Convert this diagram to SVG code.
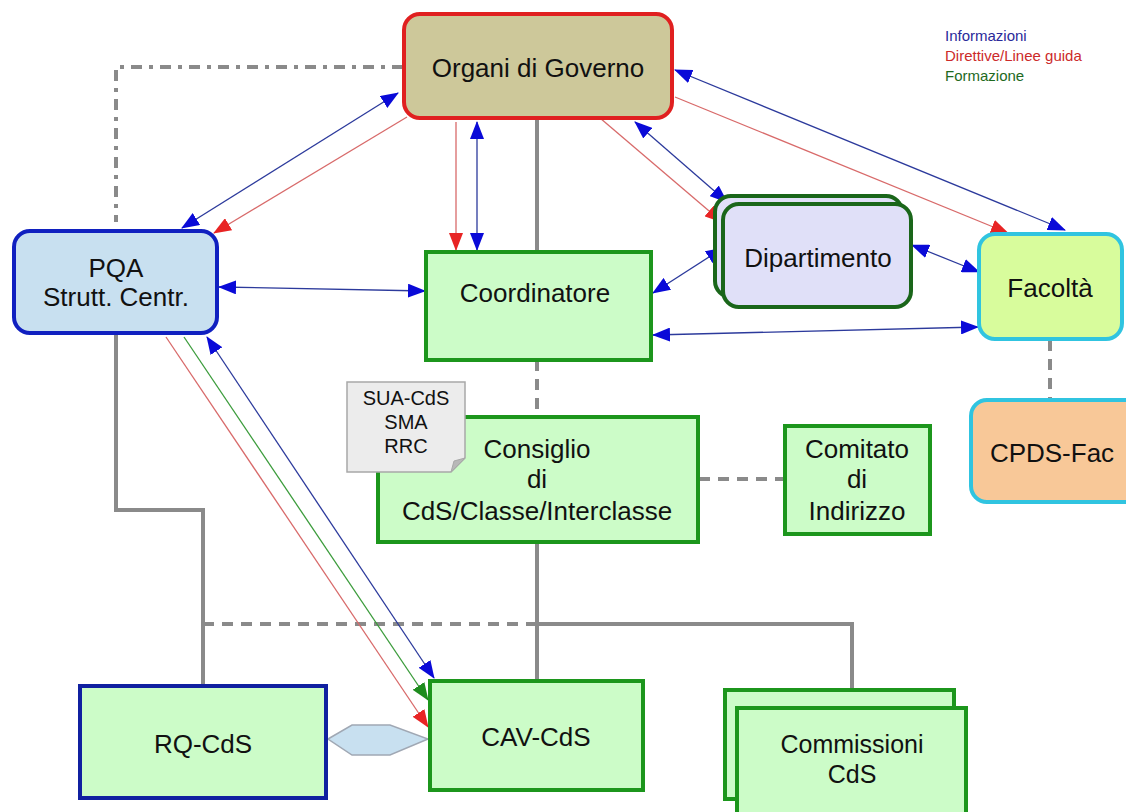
<svg xmlns="http://www.w3.org/2000/svg" width="1126" height="812" viewBox="0 0 1126 812">
<style>
text{font-family:"Liberation Sans",Arial,sans-serif;fill:#111;text-anchor:middle}
.t{font-size:26px}
.c{font-size:25px}
.n{font-size:20px}
.lg{font-size:15px;text-anchor:start}
.g{fill:#ccfcc8;stroke:#1c961c;stroke-width:4}
.sol{stroke:#8a8a8a;stroke-width:4;fill:none}
.dash{stroke:#8a8a8a;stroke-width:4;fill:none;stroke-dasharray:11 8}
.dd{stroke:#8a8a8a;stroke-width:4;fill:none;stroke-dasharray:11 7 4 7}
.bl{stroke:#2c3a9c;stroke-width:1.3;fill:none}
.rd{stroke:#d86a6a;stroke-width:1.3;fill:none}
.gr{stroke:#3c9c3c;stroke-width:1.3;fill:none}
</style>
<defs>
<marker id="ab" markerWidth="18" markerHeight="14" refX="17" refY="7" orient="auto-start-reverse" markerUnits="userSpaceOnUse"><path d="M0,0 L18,7 L0,14 z" fill="#0a0ad8"/></marker>
<marker id="ar" markerWidth="18" markerHeight="14" refX="17" refY="7" orient="auto" markerUnits="userSpaceOnUse"><path d="M0,0 L18,7 L0,14 z" fill="#e82424"/></marker>
<marker id="ag" markerWidth="18" markerHeight="14" refX="17" refY="7" orient="auto" markerUnits="userSpaceOnUse"><path d="M0,0 L18,7 L0,14 z" fill="#1e8c1e"/></marker>
</defs>
<rect width="1126" height="812" fill="#ffffff"/>

<g id="connectors">
<polyline class="dd" points="403,67 116,67 116,222"/>
<line class="sol" x1="537" y1="118" x2="537" y2="250"/>
<line class="dash" x1="537" y1="360" x2="537" y2="417"/>
<line class="dash" x1="699" y1="479" x2="784" y2="479"/>
<line class="dash" x1="1050" y1="340" x2="1050" y2="400"/>
<polyline class="sol" points="116,333 116,510 203,510 203,685"/>
<line class="sol" x1="537" y1="542" x2="537" y2="680"/>
<line class="dash" x1="203" y1="624" x2="537" y2="624"/>
<polyline class="sol" points="537,624 852,624 852,707"/>
<polygon points="328,739 352,725 390,725 428,739 390,755 352,755" fill="#c8e0f0" stroke="#a0a8b4" stroke-width="1.5"/>

<line class="bl" x1="398" y1="93" x2="182" y2="228" marker-start="url(#ab)" marker-end="url(#ab)"/>
<line class="rd" x1="407" y1="117" x2="214" y2="233" marker-end="url(#ar)"/>
<line class="rd" x1="456" y1="122" x2="456" y2="250" marker-end="url(#ar)"/>
<line class="bl" x1="477" y1="122" x2="477" y2="250" marker-start="url(#ab)" marker-end="url(#ab)"/>
<line class="rd" x1="600" y1="118" x2="722" y2="222" marker-end="url(#ar)"/>
<line class="bl" x1="635" y1="122" x2="727" y2="202" marker-start="url(#ab)" marker-end="url(#ab)"/>
<line class="bl" x1="675" y1="70" x2="1065" y2="230" marker-start="url(#ab)" marker-end="url(#ab)"/>
<line class="rd" x1="675" y1="97" x2="1008" y2="233" marker-end="url(#ar)"/>
<line class="bl" x1="219" y1="287" x2="425" y2="291" marker-start="url(#ab)" marker-end="url(#ab)"/>
<line class="bl" x1="653" y1="293" x2="723" y2="248" marker-start="url(#ab)" marker-end="url(#ab)"/>
<line class="bl" x1="912" y1="245" x2="979" y2="272" marker-start="url(#ab)" marker-end="url(#ab)"/>
<line class="bl" x1="653" y1="335" x2="978" y2="327" marker-start="url(#ab)" marker-end="url(#ab)"/>
<line class="bl" x1="207" y1="337" x2="434" y2="678" marker-start="url(#ab)" marker-end="url(#ab)"/>
<line class="gr" x1="184" y1="337" x2="428" y2="700" marker-end="url(#ag)"/>
<line class="rd" x1="166" y1="337" x2="428" y2="727" marker-end="url(#ar)"/>
</g>

<g id="legend">
<text class="lg" x="945" y="41" style="fill:#2a2a9a">Informazioni</text>
<text class="lg" x="945" y="61" style="fill:#cc2a2a">Direttive/Linee guida</text>
<text class="lg" x="945" y="81" style="fill:#1e6a1e">Formazione</text>
</g>

<g id="organi">
<rect x="404" y="14" width="268" height="104" rx="16" fill="#cdc89a" stroke="#e02020" stroke-width="4"/>
<text class="t" x="538" y="77">Organi di Governo</text>
</g>

<g id="pqa">
<rect x="14" y="231" width="203" height="102" rx="16" fill="#c8e0f0" stroke="#1020c0" stroke-width="4"/>
<text class="t" x="116" y="277">PQA</text>
<text class="t" x="116" y="306">Strutt. Centr.</text>
</g>

<g id="coordinatore">
<rect class="g" x="426" y="252" width="225" height="108"/>
<text class="t" x="535" y="302">Coordinatore</text>
</g>

<g id="dipartimento">
<rect x="715" y="196" width="187" height="101" rx="16" fill="#e0e0f8" stroke="#1a661a" stroke-width="4"/>
<rect x="723" y="204" width="188" height="103" rx="16" fill="#e0e0f8" stroke="#1a661a" stroke-width="4"/>
<text class="t" x="818" y="267">Dipartimento</text>
</g>

<g id="facolta">
<rect x="979" y="234" width="143" height="105" rx="16" fill="#d8fc9c" stroke="#30c4e0" stroke-width="4"/>
<text class="t" x="1050" y="297">Facoltà</text>
</g>

<g id="cpds">
<rect x="971" y="400" width="170" height="102" rx="16" fill="#f8c898" stroke="#30c4e0" stroke-width="4"/>
<text class="t" x="1052" y="462">CPDS-Fac</text>
</g>

<g id="consiglio">
<rect class="g" x="378" y="417" width="320" height="125"/>
<text class="t" x="537" y="458">Consiglio</text>
<text class="t" x="537" y="488">di</text>
<text class="t" x="537" y="520">CdS/Classe/Interclasse</text>
</g>

<g id="nota">
<path d="M347,382 H465 V458 L451,472 H347 Z" fill="#ececec" stroke="#a8a8a8" stroke-width="1.5"/>
<path d="M451,472 L454,461 L465,458 Z" fill="#b8b8b8" stroke="#a8a8a8" stroke-width="1"/>
<text class="n" x="406" y="405">SUA-CdS</text>
<text class="n" x="406" y="429">SMA</text>
<text class="n" x="406" y="453">RRC</text>
</g>

<g id="comitato">
<rect class="g" x="785" y="426" width="145" height="108"/>
<text class="t" x="857" y="458">Comitato</text>
<text class="t" x="857" y="488">di</text>
<text class="t" x="857" y="520">Indirizzo</text>
</g>

<g id="rqcds">
<rect x="80" y="686" width="246" height="112" fill="#ccfcc8" stroke="#1020a0" stroke-width="4"/>
<text class="t" x="203" y="753">RQ-CdS</text>
</g>

<g id="cavcds">
<rect class="g" x="430" y="681" width="213" height="109"/>
<text class="t" x="536" y="746">CAV-CdS</text>
</g>

<g id="commissioni">
<rect class="g" x="725" y="690" width="229" height="109"/>
<rect class="g" x="737" y="708" width="229" height="110"/>
<text class="c" x="852" y="753">Commissioni</text>
<text class="c" x="852" y="783">CdS</text>
</g>
</svg>
